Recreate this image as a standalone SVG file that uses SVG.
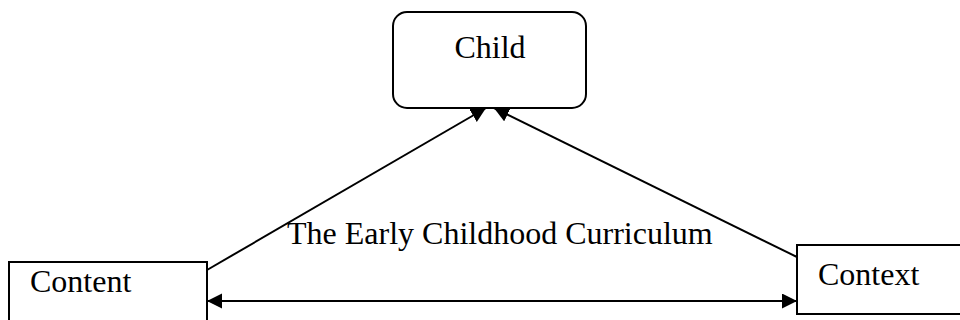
<svg xmlns="http://www.w3.org/2000/svg" width="960" height="320" viewBox="0 0 960 320">
<style>
.box{fill:#fff;stroke:#000;stroke-width:2}
.lbl{font-family:"Liberation Serif","Times New Roman",serif;font-size:32px;fill:#000}
.conn{stroke:#000;stroke-width:2;fill:none}
</style>
<defs>
<marker id="ah" markerUnits="userSpaceOnUse" markerWidth="16" markerHeight="16" viewBox="0 0 16 16" refX="15" refY="7.5" orient="auto-start-reverse">
<path d="M0,0 L15,7.5 L0,15 z" fill="#000"/>
</marker>
</defs>
<rect width="960" height="320" fill="#fff"/>
<g id="child">
<rect class="box" x="393" y="12" width="193" height="96" rx="14"/>
<text class="lbl" x="490" y="58" text-anchor="middle">Child</text>
</g>
<g id="content">
<rect class="box" x="9" y="262" width="198" height="70"/>
<text class="lbl" x="30" y="292">Content</text>
</g>
<g id="context">
<rect class="box" x="797" y="245" width="175" height="69"/>
<text class="lbl" x="818" y="285">Context</text>
</g>
<g id="connectors">
<line class="conn" x1="207" y1="270" x2="486" y2="108" marker-end="url(#ah)"/>
<line class="conn" x1="797" y1="257" x2="494" y2="108" marker-end="url(#ah)"/>
<line class="conn" x1="207" y1="301" x2="797" y2="301" marker-start="url(#ah)" marker-end="url(#ah)"/>
</g>
<text class="lbl" x="287" y="244">The Early Childhood Curriculum</text>
</svg>
